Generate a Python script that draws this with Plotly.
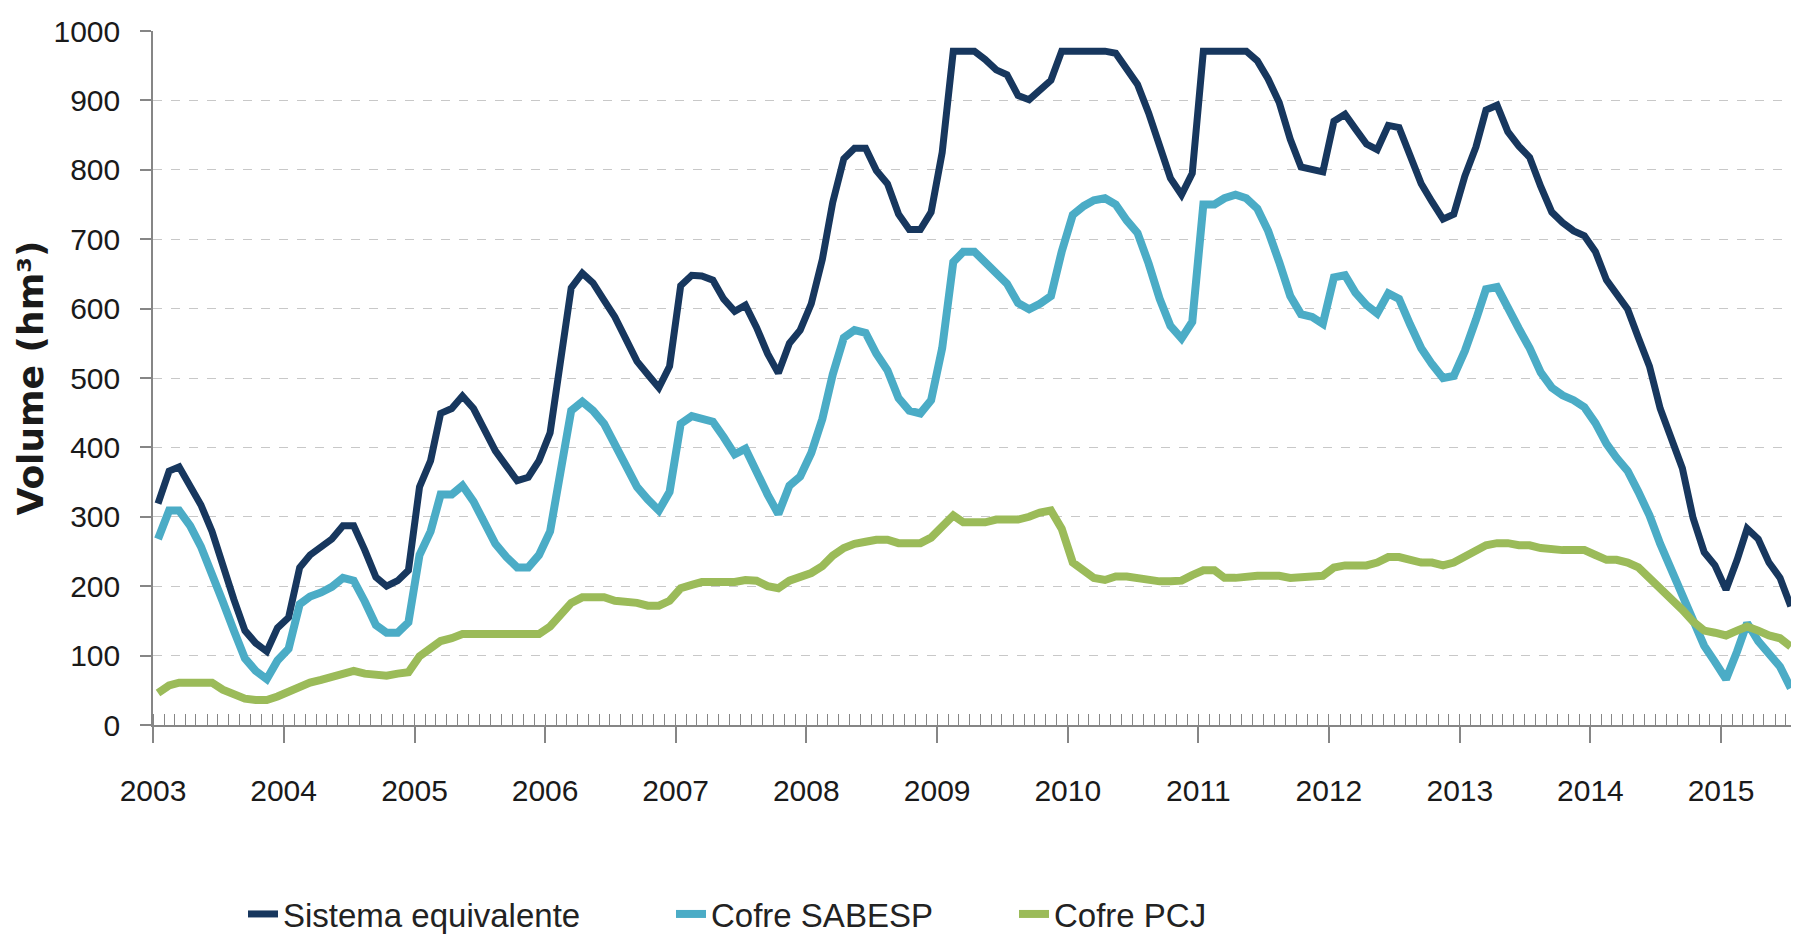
import pandas as pd
import plotly.graph_objects as go

# monthly volumes (hm3), Jan 2003 .. Jul 2015
months = pd.date_range("2003-01-01", periods=151, freq="MS") + pd.Timedelta(days=14)

sistema_equivalente = [
    319, 366, 372, 345, 317, 279, 228, 181, 136, 118, 106, 140,
    155, 227, 245, 258, 268, 287, 287, 252, 213, 200, 208, 223,
    343, 381, 449, 456, 474, 456, 426, 395, 373, 352, 357, 381,
    421, 540, 630, 651, 637, 612, 588, 556, 524, 505, 486, 517,
    633, 648, 647, 641, 614, 596, 605, 573, 535, 507, 550, 569,
    607, 671, 753, 816, 831, 831, 799, 780, 736, 714, 714, 739,
    825, 971, 971, 971, 959, 944, 937, 907, 901, 914, 929, 971,
    971, 971, 971, 971, 968, 946, 923, 882, 837, 788, 764, 795,
    971, 971, 971, 971, 971, 957, 931, 897, 844, 804, 800, 797,
    870, 880, 859, 837, 829, 864, 861, 822, 780, 754, 729, 736,
    791, 833, 886, 893, 855, 834, 818, 776, 739, 724, 712, 705,
    682, 641, 622, 599, 558, 517, 456, 415, 370, 298, 249, 230,
    195, 238, 283, 268, 234, 212, 171,
]

cofre_sabesp = [
    268, 309, 309, 287, 257, 219, 178, 136, 96, 78, 66, 93,
    110, 174, 185, 191, 199, 212, 208, 178, 144, 133, 133, 148,
    245, 279, 332, 332, 345, 322, 291, 261, 242, 227, 227, 245,
    279, 373, 453, 466, 453, 434, 404, 373, 343, 325, 309, 336,
    434, 445, 441, 437, 415, 390, 398, 362, 332, 304, 345, 358,
    392, 441, 505, 558, 569, 565, 535, 511, 471, 453, 449, 468,
    543, 667, 682, 682, 667, 648, 636, 608, 599, 607, 618, 682,
    735, 748, 756, 759, 750, 727, 709, 665, 614, 575, 557, 581,
    750, 750, 759, 764, 759, 744, 712, 667, 618, 592, 588, 578,
    645, 648, 623, 605, 593, 622, 614, 577, 543, 520, 500, 503,
    539, 584, 628, 631, 599, 571, 543, 508, 486, 475, 468, 458,
    435, 405, 385, 366, 336, 302, 261, 223, 190, 151, 114, 91,
    66, 106, 147, 121, 102, 84, 53,
]

cofre_pcj = [
    46, 57, 61, 61, 61, 61, 51, 44, 38, 36, 36, 41,
    48, 57, 61, 65, 69, 76, 78, 74, 71, 71, 74, 76,
    99, 110, 121, 125, 131, 131, 131, 131, 131, 131, 131, 131,
    142, 161, 176, 184, 184, 184, 179, 178, 176, 172, 172, 179,
    197, 202, 206, 206, 206, 206, 209, 208, 200, 197, 208, 212,
    219, 229, 244, 255, 261, 264, 267, 267, 262, 262, 262, 270,
    287, 302, 292, 292, 292, 296, 296, 296, 300, 306, 309, 283,
    234, 223, 212, 209, 214, 214, 212, 208, 207, 207, 208, 216,
    223, 223, 212, 212, 214, 215, 215, 215, 212, 212, 214, 215,
    227, 230, 230, 230, 234, 242, 242, 238, 234, 234, 230, 234,
    242, 249, 259, 262, 262, 259, 259, 255, 252, 252, 252, 252,
    245, 238, 238, 234, 227, 212, 197, 181, 166, 149, 136, 133,
    129, 136, 142, 136, 129, 125, 113,
]

series = [
    ("Sistema equivalente", sistema_equivalente, "#17375E", 7, "legend2"),
    ("Cofre SABESP", cofre_sabesp, "#4BACC6", 8, "legend3"),
    ("Cofre PCJ", cofre_pcj, "#9BBB59", 8, "legend4"),
]

FONT = "Liberation Sans, Arial, sans-serif"

fig = go.Figure()
for name, vals, color, w, leg in series:
    fig.add_trace(go.Scatter(
        x=months, y=vals, name=name, mode="lines",
        line=dict(color=color, width=w),
        legend=leg,
    ))

# the page body keeps its default 8px margin, so the figure is drawn 8px in
PAGE = 8
W, H = 1799 - PAGE, 937 - PAGE
L, R, T, B = 153 - PAGE, 0, 31 - PAGE, 212
plot_w = W - L - R


def px_x(px):
    # window pixel -> x paper coordinate
    return (px - PAGE - L) / plot_w


legend_common = dict(
    orientation="h", yref="container", yanchor="middle", y=1 - (914 - PAGE) / H,
    xanchor="left",
    font=dict(family=FONT, size=33, color="#222222"),
    bgcolor="rgba(0,0,0,0)",
)

fig.update_layout(
    width=W, height=H,
    margin=dict(l=L, r=R, t=T, b=B, autoexpand=False),
    plot_bgcolor="white", paper_bgcolor="white",
    font=dict(family=FONT, size=30, color="#222222"),
    showlegend=True,
    legend2=dict(x=px_x(243), **legend_common),
    legend3=dict(x=px_x(671), **legend_common),
    legend4=dict(x=px_x(1014), **legend_common),
    xaxis=dict(
        type="date",
        range=["2003-01-01", "2015-08-07"],
        tick0="2003-01-01", dtick="M12", tickformat="%Y",
        ticks="outside", ticklen=16, tickcolor="#868686", tickwidth=1.5,
        ticklabelstandoff=22,
        showline=True, linecolor="#868686", linewidth=1.5,
        showgrid=False,
        minor=dict(dtick="M1", ticks="inside", ticklen=11,
                   tickcolor="#868686", tickwidth=1, showgrid=False),
        tickfont=dict(family=FONT, size=30, color="#1a1a1a"),
    ),
    yaxis=dict(
        range=[0, 1000], dtick=100,
        ticks="outside", ticklen=11, tickcolor="#868686", tickwidth=1.5,
        ticklabelstandoff=14,
        showline=True, linecolor="#868686", linewidth=1.5,
        showgrid=True, gridcolor="#C8C8C8", griddash="dash", gridwidth=1,
        zeroline=False,
        tickfont=dict(family=FONT, size=30, color="#1a1a1a"),
    ),
    annotations=[dict(
        text="Volume (hm³)", textangle=-90,
        xref="paper", yref="paper", x=px_x(29.5), y=0.5,
        xanchor="center", yanchor="middle", showarrow=False,
        font=dict(family="DejaVu Sans", size=36, color="#1a1a1a", weight="bold"),
    )],
)

fig.write_html("out.html")
